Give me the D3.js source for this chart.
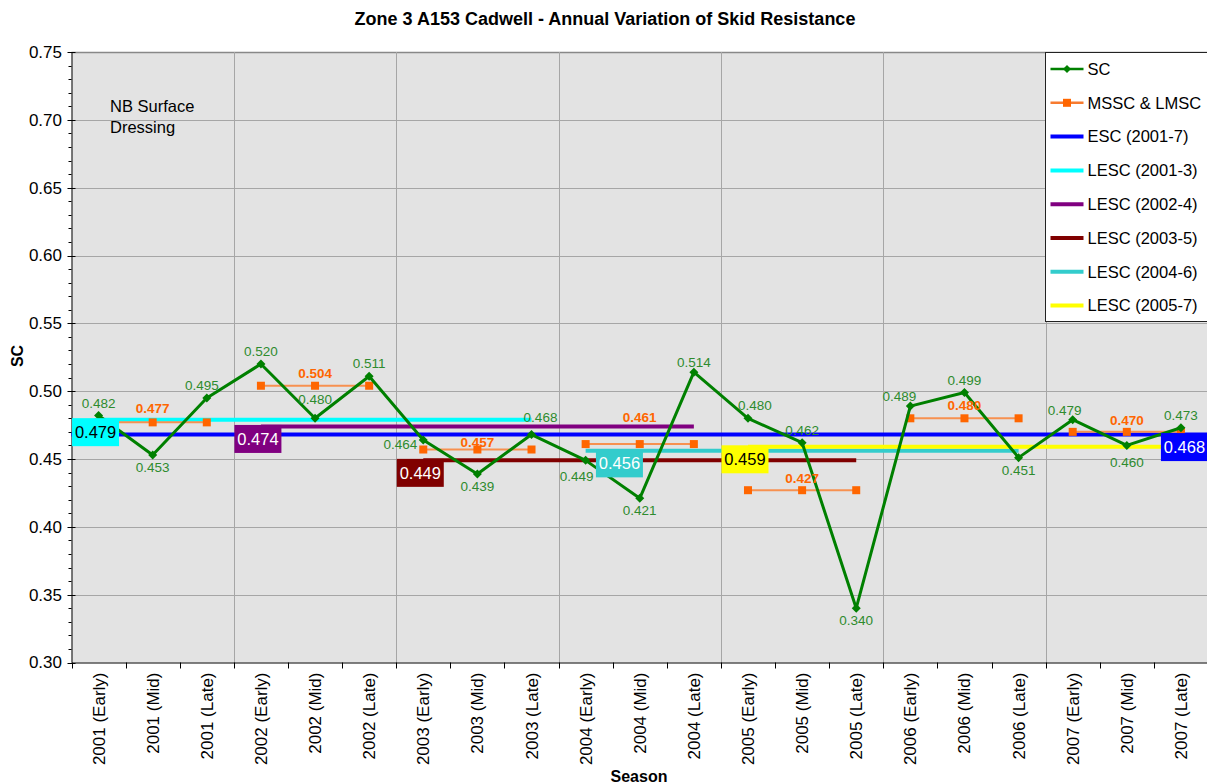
<!DOCTYPE html>
<html>
<head>
<meta charset="utf-8">
<title>Zone 3 A153 Cadwell - Annual Variation of Skid Resistance</title>
<script src="https://d3js.org/d3.v7.min.js"></script>
<style>
  body { margin: 0; padding: 0; background: #fff; }
  text { font-family: "Liberation Sans", Arial, sans-serif; }
</style>
</head>
<body>
<div id="chart"></div>
<script>
// ---- data ----
var seasons = [
  "2001 (Early)", "2001 (Mid)", "2001 (Late)",
  "2002 (Early)", "2002 (Mid)", "2002 (Late)",
  "2003 (Early)", "2003 (Mid)", "2003 (Late)",
  "2004 (Early)", "2004 (Mid)", "2004 (Late)",
  "2005 (Early)", "2005 (Mid)", "2005 (Late)",
  "2006 (Early)", "2006 (Mid)", "2006 (Late)",
  "2007 (Early)", "2007 (Mid)", "2007 (Late)"
];
var scValues = [0.482, 0.453, 0.495, 0.520, 0.480, 0.511, 0.464, 0.439, 0.468,
                0.449, 0.421, 0.514, 0.480, 0.462, 0.340, 0.489, 0.499, 0.451,
                0.479, 0.460, 0.473];
// where each SC value label sits relative to its point
var scLabelSide = ["above", "below", "above", "above", "above", "above", "left",
                   "below", "above", "below", "below", "above", "above", "above",
                   "below", "above", "above", "below", "above", "below", "above"];

var years = ["2001", "2002", "2003", "2004", "2005", "2006", "2007"];
var msscValues = [0.477, 0.504, 0.457, 0.461, 0.427, 0.480, 0.470];

var escNames = ["ESC (2001-7)", "LESC (2001-3)", "LESC (2002-4)",
                "LESC (2003-5)", "LESC (2004-6)", "LESC (2005-7)"];
var escValues = [0.468, 0.479, 0.474, 0.449, 0.456, 0.459];
var escFrom = [0, 0, 3, 6, 9, 12];     // first season index
var escTo = [20, 8, 11, 14, 17, 20];   // last season index
var escLabelAt = [20.12, 0, 3, 6, 9.68, 12]; // season index where the value box sits

var yTicks = [0.30, 0.35, 0.40, 0.45, 0.50, 0.55, 0.60, 0.65, 0.70, 0.75];

// ---- layout ----
var W = 1207, H = 784;
var plotL = 71.5, plotR = 1208, plotT = 52, plotB = 662.5;

// small hand nudges for labels that the original moved off their default spot
var scNudge = { 2: [-5, 0], 4: [0, -6], 8: [9, -5], 9: [-9, 4], 12: [7, 0],
                15: [-11, 3], 18: [-8, 3], 19: [0, 5], 11: [0, 3] };
var msscGap = [9, 8, 3, 22, 7, 8, 7];

var svg = d3.select("#chart").append("svg")
  .attr("width", W).attr("height", H);

var x = d3.scaleBand().domain(seasons).range([plotL, plotR]);
var cx = function (i) { return x(seasons[i]) + x.bandwidth() / 2; };
var xi = function (f) { return plotL + (f + 0.5) * x.bandwidth(); };
var y = d3.scaleLinear().domain([0.30, 0.75]).range([plotB, plotT]);

var escColor = d3.scaleOrdinal().domain(escNames)
  .range(["#0000ff", "#00ffff", "#800080", "#800000", "#33cccc", "#ffff00"]);
var escText = d3.scaleOrdinal().domain(escNames)
  .range(["#ffffff", "#000000", "#ffffff", "#ffffff", "#ffffff", "#000000"]);

var green = "#008000", orange = "#ff6600";

// title
svg.append("text")
  .attr("x", 605).attr("y", 25)
  .attr("text-anchor", "middle")
  .style("font-size", "18px").style("font-weight", "bold")
  .text("Zone 3 A153 Cadwell - Annual Variation of Skid Resistance");

// plot area
svg.append("rect")
  .attr("x", plotL).attr("y", plotT)
  .attr("width", plotR - plotL).attr("height", plotB - plotT)
  .attr("fill", "#e3e3e3");

// horizontal gridlines
svg.append("g").selectAll("line")
  .data(yTicks.slice(1))
  .join("line")
    .attr("x1", plotL).attr("x2", plotR)
    .attr("y1", function (d) { return Math.round(y(d)) + 0.5; })
    .attr("y2", function (d) { return Math.round(y(d)) + 0.5; })
    .attr("stroke", function (d) { return d === 0.75 ? "#888" : "#a6a6a6"; })
    .attr("stroke-width", function (d) { return d === 0.75 ? 1.5 : 1; });

// vertical gridlines between years
svg.append("g").selectAll("line")
  .data(d3.range(3, 21, 3))
  .join("line")
    .attr("x1", function (i) { return Math.round(x(seasons[i])) + 0.5; })
    .attr("x2", function (i) { return Math.round(x(seasons[i])) + 0.5; })
    .attr("y1", plotT).attr("y2", plotB)
    .attr("stroke", "#a6a6a6");

// y axis with minor ticks
var yAxis = svg.append("g");
yAxis.append("line")
  .attr("x1", plotL + 0.5).attr("x2", plotL + 0.5)
  .attr("y1", plotT).attr("y2", plotB)
  .attr("stroke", "#000");
yAxis.selectAll("line.minor")
  .data(d3.range(30, 76).map(function (v) { return v / 100; }))
  .join("line").attr("class", "minor")
    .attr("x1", plotL - 3).attr("x2", plotL)
    .attr("y1", function (d) { return Math.round(y(d)) + 0.5; })
    .attr("y2", function (d) { return Math.round(y(d)) + 0.5; })
    .attr("stroke", "#000");
yAxis.selectAll("line.major")
  .data(yTicks)
  .join("line").attr("class", "major")
    .attr("x1", plotL - 4).attr("x2", plotL + 4)
    .attr("y1", function (d) { return Math.round(y(d)) + 0.5; })
    .attr("y2", function (d) { return Math.round(y(d)) + 0.5; })
    .attr("stroke", "#000");
yAxis.selectAll("text")
  .data(yTicks)
  .join("text")
    .attr("x", 62).attr("y", function (d) { return y(d); })
    .attr("dy", "0.35em")
    .attr("text-anchor", "end")
    .style("font-size", "17px")
    .text(function (d) { return d.toFixed(2); });

// x axis
var xAxis = svg.append("g");
xAxis.append("line")
  .attr("x1", plotL).attr("x2", plotR)
  .attr("y1", plotB + 0.5).attr("y2", plotB + 0.5)
  .attr("stroke", "#000");
xAxis.selectAll("line.tick")
  .data(d3.range(0, 22))
  .join("line").attr("class", "tick")
    .attr("x1", function (i) { return Math.round(plotL + i * x.bandwidth()) + 0.5; })
    .attr("x2", function (i) { return Math.round(plotL + i * x.bandwidth()) + 0.5; })
    .attr("y1", plotB).attr("y2", plotB + 6)
    .attr("stroke", "#000");
xAxis.selectAll("text")
  .data(seasons)
  .join("text")
    .attr("transform", function (d, i) {
      return "translate(" + (cx(i) + 6) + "," + (plotB + 10) + ") rotate(-90)";
    })
    .attr("text-anchor", "end")
    .style("font-size", "17px")
    .text(function (d) { return d; });

// axis titles
svg.append("text")
  .attr("x", 639).attr("y", 782)
  .attr("text-anchor", "middle")
  .style("font-size", "16px").style("font-weight", "bold")
  .text("Season");
svg.append("text")
  .attr("transform", "translate(23,356) rotate(-90)")
  .attr("text-anchor", "middle")
  .style("font-size", "16px").style("font-weight", "bold")
  .text("SC");

// note
svg.append("text")
  .attr("x", 110).attr("y", 112)
  .style("font-size", "16.5px")
  .text("NB Surface");
svg.append("text")
  .attr("x", 110).attr("y", 133)
  .style("font-size", "16.5px")
  .text("Dressing");

// ESC / LESC lines
svg.append("g").selectAll("line")
  .data(escNames)
  .join("line")
    .attr("x1", function (d, k) { return k === 0 ? plotL : cx(escFrom[k]); })
    .attr("x2", function (d, k) { return k === 0 ? plotR : cx(escTo[k]); })
    .attr("y1", function (d, k) { return y(escValues[k]); })
    .attr("y2", function (d, k) { return y(escValues[k]); })
    .attr("stroke", function (d) { return escColor(d); })
    .attr("stroke-width", 4);

// MSSC & LMSC: one flat segment per year across its three seasons
var mssc = svg.append("g");
years.forEach(function (yr, j) {
  var pts = [3 * j, 3 * j + 1, 3 * j + 2];
  mssc.append("line")
    .attr("x1", cx(pts[0])).attr("x2", cx(pts[2]))
    .attr("y1", y(msscValues[j])).attr("y2", y(msscValues[j]))
    .attr("stroke", "#f79150").attr("stroke-width", 2);
  mssc.selectAll("rect.y" + yr)
    .data(pts)
    .join("rect").attr("class", "y" + yr)
      .attr("x", function (i) { return cx(i) - 4; })
      .attr("y", y(msscValues[j]) - 4)
      .attr("width", 8).attr("height", 8)
      .attr("fill", orange);
});

// SC line
var sc = svg.append("g");
sc.append("path")
  .datum(scValues)
  .attr("fill", "none")
  .attr("stroke", green)
  .attr("stroke-width", 3)
  .attr("stroke-linejoin", "round")
  .attr("d", d3.line()
    .x(function (d, i) { return cx(i); })
    .y(function (d) { return y(d); }));
sc.selectAll("path.pt")
  .data(scValues)
  .join("path").attr("class", "pt")
    .attr("transform", function (d, i) { return "translate(" + cx(i) + "," + y(d) + ")"; })
    .attr("d", "M0,-4.5L4.5,0L0,4.5L-4.5,0Z")
    .attr("fill", green);

// MSSC value labels
svg.append("g").selectAll("text")
  .data(msscValues)
  .join("text")
    .attr("x", function (d, j) { return cx(3 * j + 1); })
    .attr("y", function (d, j) { return y(d) - msscGap[j]; })
    .attr("text-anchor", "middle")
    .attr("fill", orange)
    .style("font-size", "13.5px").style("font-weight", "bold")
    .text(function (d) { return d.toFixed(3); });

// SC value labels
sc.selectAll("text")
  .data(scValues)
  .join("text")
    .attr("x", function (d, i) {
      var n = scNudge[i] ? scNudge[i][0] : 0;
      return (scLabelSide[i] === "left" ? cx(i) - 6 : cx(i)) + n;
    })
    .attr("y", function (d, i) {
      var s = scLabelSide[i];
      var n = scNudge[i] ? scNudge[i][1] : 0;
      return y(d) + (s === "above" ? -8 : s === "below" ? 17 : 9) + n;
    })
    .attr("text-anchor", function (d, i) { return scLabelSide[i] === "left" ? "end" : "middle"; })
    .attr("fill", "#2e8b2e")
    .style("font-size", "13.5px")
    .text(function (d) { return d.toFixed(3); });

// ESC / LESC value boxes
var boxes = svg.append("g").selectAll("g")
  .data(escNames)
  .join("g")
    .attr("transform", function (d, k) {
      return "translate(" + (xi(escLabelAt[k]) - 3) + "," + (y(escValues[k]) - 1.5) + ")";
    });
boxes.append("rect")
  .attr("x", -23.5).attr("y", 0)
  .attr("width", 47).attr("height", 28)
  .attr("fill", function (d) { return escColor(d); });
boxes.append("text")
  .attr("x", 0).attr("y", 20)
  .attr("text-anchor", "middle")
  .attr("fill", function (d) { return escText(d); })
  .style("font-size", "16.5px")
  .text(function (d, k) { return escValues[k].toFixed(3); });

// legend
var legendNames = ["SC", "MSSC & LMSC"].concat(escNames);
var legend = svg.append("g").attr("transform", "translate(1045.5,52.5)");
legend.append("rect")
  .attr("width", 170).attr("height", 269)
  .attr("fill", "#fff").attr("stroke", "#222");
var item = legend.selectAll("g")
  .data(legendNames)
  .join("g")
    .attr("transform", function (d, i) { return "translate(0," + (16.5 + i * 33.8) + ")"; });
item.append("line")
  .attr("x1", 5).attr("x2", 38)
  .attr("stroke", function (d, i) { return i === 0 ? green : i === 1 ? "#f77b30" : escColor(d); })
  .attr("stroke-width", function (d, i) { return i < 2 ? 2.5 : 4; });
item.filter(function (d, i) { return i === 0; }).append("path")
  .attr("transform", "translate(21.5,0)")
  .attr("d", "M0,-4L4,0L0,4L-4,0Z").attr("fill", green);
item.filter(function (d, i) { return i === 1; }).append("rect")
  .attr("x", 17.5).attr("y", -4).attr("width", 8).attr("height", 8)
  .attr("fill", orange);
item.append("text")
  .attr("x", 42).attr("dy", "0.35em")
  .style("font-size", "16.5px")
  .text(function (d) { return d; });
</script>
</body>
</html>
